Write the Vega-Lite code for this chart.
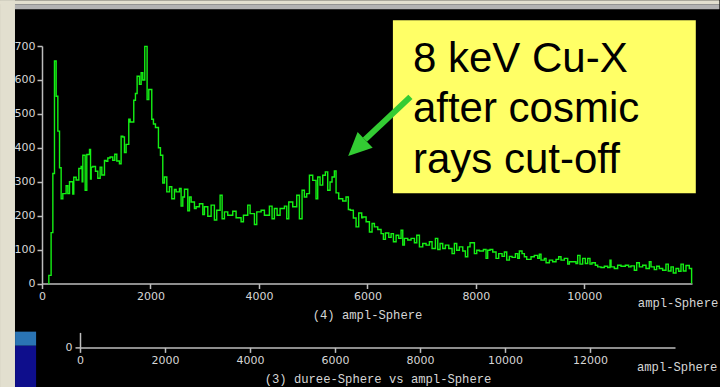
{
  "$schema": "https://vega.github.io/schema/vega-lite/v6.json",
  "background": "#000000",
  "padding": 0,
  "spacing": 48.4,
  "bounds": "flush",
  "config": {
    "view": {"stroke": null},
    "axis": {
      "domainColor": "#bdbdbd", "tickColor": "#bdbdbd", "labelColor": "#d6d6d6",
      "labelFont": "DejaVu Sans", "labelFontSize": 11, "tickSize": 5, "labelPadding": 2,
      "grid": false, "titleColor": "#d6d6d6", "titleFont": "Liberation Mono",
      "titleFontSize": 12.2, "titleFontWeight": "normal", "domainWidth": 1.5, "tickWidth": 1.5,
      "labelFlush": false, "labelOverlap": false, "zindex": 1, "format": "d"
    }
  },
  "vconcat": [
    {
      "width": 650,
      "height": 237.5,
      "encoding": {
        "x": {"field": "x", "type": "quantitative", "scale": {"domain": [0, 11985], "nice": false, "zero": false},
          "axis": {"values": [0, 2000, 4000, 6000, 8000, 10000], "title": "(4) ampl-Sphere", "titleX": 325, "titleY": 30.5, "titleAlign": "center", "titleBaseline": "middle"}},
        "y": {"field": "y", "type": "quantitative", "scale": {"domain": [0, 700], "nice": false, "zero": false},
          "axis": {"values": [0, 100, 200, 300, 400, 500, 600, 700], "title": null}}
      },
      "layer": [
        {
          "data": {"values": [
            {"x": -774, "x2": -498, "y": 835, "y2": -305},
            {"x": -774, "x2": 12490, "y": 835, "y2": 823}
          ]},
          "mark": {"type": "rect", "color": "#e2dfcf"},
          "encoding": {"x2": {"field": "x2"}, "y2": {"field": "y2"}}
        },
        {
          "data": {"values": [{"x": -498, "x2": 12490, "y": 823, "y2": 808.5}]},
          "mark": {"type": "rect", "color": "#b2b2b2"},
          "encoding": {"x2": {"field": "x2"}, "y2": {"field": "y2"}}
        },
        {
          "data": {"values": [{"x": 6470, "x2": 12055, "y": 776, "y2": 266}]},
          "mark": {"type": "rect", "color": "#ffff66"},
          "encoding": {"x2": {"field": "x2"}, "y2": {"field": "y2"}}
        },
        {
          "data": {"values": [
            {"x": 6839, "y": 623, "t": "8 keV Cu-X"},
            {"x": 6839, "y": 476, "t": "after cosmic"},
            {"x": 6839, "y": 325, "t": "rays cut-off"}
          ]},
          "mark": {"type": "text", "font": "Liberation Sans", "fontSize": 42, "align": "left", "baseline": "alphabetic", "color": "#000000"},
          "encoding": {"text": {"field": "t"}}
        },
        {
          "data": {"values": [{"x": 10986, "y": -58, "t": "ampl-Sphere"}]},
          "mark": {"type": "text", "font": "Liberation Mono", "fontSize": 12.2, "align": "left", "baseline": "middle", "color": "#d6d6d6"},
          "encoding": {"text": {"field": "t"}}
        },
        {
          "data": {"values": [
            {"x":120,"y":0},{"x":126,"y":24},{"x":168,"y":150},{"x":200,"y":324},{"x":230,"y":656},{"x":261,"y":552},{"x":292,"y":449},{"x":323,"y":341},{"x":353,"y":250},{"x":384,"y":265},{"x":445,"y":288},{"x":476,"y":265},{"x":507,"y":300},{"x":568,"y":264},{"x":586,"y":313},{"x":630,"y":305},{"x":679,"y":339},{"x":722,"y":345},{"x":740,"y":300},{"x":753,"y":378},{"x":796,"y":275},{"x":826,"y":380},{"x":876,"y":395},{"x":895,"y":308},{"x":907,"y":343},{"x":937,"y":345},{"x":986,"y":331},{"x":1029,"y":310},{"x":1072,"y":343},{"x":1103,"y":320},{"x":1152,"y":363},{"x":1183,"y":360},{"x":1213,"y":370},{"x":1256,"y":373},{"x":1305,"y":363},{"x":1342,"y":381},{"x":1379,"y":361},{"x":1428,"y":353},{"x":1459,"y":434},{"x":1490,"y":432},{"x":1520,"y":386},{"x":1551,"y":410},{"x":1600,"y":484},{"x":1625,"y":476},{"x":1692,"y":540},{"x":1723,"y":560},{"x":1754,"y":611},{"x":1797,"y":587},{"x":1828,"y":621},{"x":1858,"y":600},{"x":1895,"y":699},{"x":1938,"y":542},{"x":1969,"y":572},{"x":2024,"y":484},{"x":2055,"y":470},{"x":2092,"y":460},{"x":2147,"y":400},{"x":2184,"y":378},{"x":2227,"y":296},{"x":2258,"y":314},{"x":2301,"y":270},{"x":2350,"y":285},{"x":2393,"y":250},{"x":2442,"y":277},{"x":2473,"y":270},{"x":2535,"y":280},{"x":2565,"y":228},{"x":2596,"y":255},{"x":2627,"y":278},{"x":2688,"y":214},{"x":2719,"y":255},{"x":2750,"y":240},{"x":2811,"y":221},{"x":2842,"y":226},{"x":2903,"y":235},{"x":2965,"y":203},{"x":2995,"y":226},{"x":3057,"y":198},
            {"x":3118,"y":231},{"x":3179,"y":187},{"x":3222,"y":216},{"x":3284,"y":260},{"x":3321,"y":191},{"x":3364,"y":211},{"x":3425,"y":201},{"x":3517,"y":213},{"x":3579,"y":194},{"x":3671,"y":182},{"x":3714,"y":201},{"x":3794,"y":231},{"x":3837,"y":206},{"x":3917,"y":174},{"x":3960,"y":211},{"x":4040,"y":216},{"x":4101,"y":201},{"x":4193,"y":228},{"x":4242,"y":191},{"x":4285,"y":221},{"x":4335,"y":201},{"x":4390,"y":221},{"x":4470,"y":228},{"x":4513,"y":191},{"x":4550,"y":240},{"x":4623,"y":226},{"x":4697,"y":260},{"x":4746,"y":191},{"x":4795,"y":275},{"x":4838,"y":255},{"x":4881,"y":265},{"x":4931,"y":319},{"x":4992,"y":304},{"x":5053,"y":250},{"x":5084,"y":314},{"x":5127,"y":290},{"x":5176,"y":319},{"x":5225,"y":329},{"x":5268,"y":275},{"x":5311,"y":299},{"x":5348,"y":314},{"x":5391,"y":332},{"x":5422,"y":267},{"x":5471,"y":250},{"x":5545,"y":243},{"x":5606,"y":255},{"x":5649,"y":218},{"x":5686,"y":216},{"x":5741,"y":193},{"x":5791,"y":167},{"x":5840,"y":208},{"x":5895,"y":194},
            {"x":5914,"y":196},{"x":5976,"y":182},{"x":6037,"y":152},{"x":6086,"y":177},{"x":6129,"y":167},{"x":6191,"y":159},{"x":6252,"y":147},{"x":6295,"y":130},{"x":6332,"y":149},{"x":6394,"y":136},{"x":6437,"y":147},{"x":6480,"y":123},{"x":6529,"y":142},{"x":6578,"y":133},{"x":6621,"y":157},{"x":6652,"y":113},{"x":6682,"y":133},{"x":6744,"y":128},{"x":6805,"y":133},{"x":6867,"y":120},{"x":6910,"y":142},{"x":6959,"y":108},{"x":7020,"y":118},{"x":7082,"y":113},{"x":7143,"y":123},{"x":7192,"y":103},{"x":7254,"y":133},{"x":7297,"y":100},{"x":7340,"y":118},{"x":7389,"y":103},{"x":7438,"y":113},{"x":7500,"y":103},{"x":7561,"y":88},{"x":7604,"y":118},{"x":7647,"y":98},{"x":7696,"y":108},{"x":7758,"y":96},{"x":7807,"y":79},{"x":7850,"y":108},{"x":7893,"y":120},{"x":7973,"y":88},{"x":8016,"y":98},{"x":8065,"y":96},{"x":8139,"y":100},{"x":8188,"y":74},{"x":8218,"y":98},{"x":8261,"y":100},{"x":8311,"y":93},{"x":8372,"y":74},{"x":8421,"y":88},{"x":8483,"y":80},{"x":8526,"y":93},{"x":8569,"y":69},{"x":8618,"y":80},{"x":8667,"y":77},{"x":8729,"y":88},{"x":8772,"y":74},
            {"x":8802,"y":96},{"x":8851,"y":88},{"x":8894,"y":79},{"x":8937,"y":71},{"x":9017,"y":79},{"x":9078,"y":83},{"x":9140,"y":74},{"x":9171,"y":86},{"x":9201,"y":69},{"x":9263,"y":74},{"x":9294,"y":61},{"x":9355,"y":69},{"x":9416,"y":64},{"x":9478,"y":71},{"x":9527,"y":79},{"x":9570,"y":69},{"x":9631,"y":74},{"x":9693,"y":57},{"x":9724,"y":64},{"x":9846,"y":59},{"x":9877,"y":83},{"x":9920,"y":57},{"x":9969,"y":74},{"x":10018,"y":59},{"x":10062,"y":74},{"x":10104,"y":57},{"x":10141,"y":61},{"x":10203,"y":54},{"x":10246,"y":49},{"x":10307,"y":47},{"x":10369,"y":51},{"x":10430,"y":47},{"x":10473,"y":69},{"x":10492,"y":49},{"x":10553,"y":44},{"x":10614,"y":54},{"x":10676,"y":51},{"x":10756,"y":54},{"x":10817,"y":49},{"x":10860,"y":52},{"x":10922,"y":39},{"x":10965,"y":61},{"x":11014,"y":49},{"x":11075,"y":54},{"x":11137,"y":44},{"x":11198,"y":64},{"x":11229,"y":49},{"x":11290,"y":41},{"x":11333,"y":51},{"x":11383,"y":44},{"x":11444,"y":39},{"x":11505,"y":57},{"x":11548,"y":37},{"x":11598,"y":49},{"x":11640,"y":31},{"x":11690,"y":44},{"x":11739,"y":36},{"x":11782,"y":57},{"x":11825,"y":37},{"x":11874,"y":53},{"x":11935,"y":44},{"x":11978,"y":0}
          ]},
          "mark": {"type": "line", "interpolate": "step-after", "color": "#14f014", "strokeWidth": 1.4}
        },
        {
          "data": {"values": [{"x": 6793, "y": 550, "x2": 5954, "y2": 424}]},
          "mark": {"type": "rule", "color": "#33cc33", "strokeWidth": 6, "strokeCap": "butt"},
          "encoding": {"x2": {"field": "x2"}, "y2": {"field": "y2"}}
        },
        {
          "data": {"values": [{"x": 5646, "y": 376}]},
          "mark": {"type": "point", "shape": "M0,0L0.7,1.5L-0.7,1.5Z", "angle": 226.4, "size": 973, "filled": true, "color": "#33cc33", "opacity": 1, "strokeWidth": 0}
        }
      ]
    },
    {
      "width": 633,
      "height": 15,
      "encoding": {
        "x": {"field": "x", "type": "quantitative", "scale": {"domain": [0, 14000], "range": [38, 633], "nice": false, "zero": false},
          "axis": {"values": [0, 2000, 4000, 6000, 8000, 10000, 12000], "title": "(3) duree-Sphere vs ampl-Sphere", "titleX": 335.5, "titleY": 31, "titleAlign": "center", "titleBaseline": "middle"}},
        "y": {"field": "y", "type": "quantitative", "scale": {"domain": [0, 1], "nice": false, "zero": false},
          "axis": {"values": [0], "title": null, "offset": -38, "labelPadding": 3}}
      },
      "layer": [
        {
          "data": {"values": [{"x": -1527, "x2": -1033, "y": 1.05, "y2": 0.11}]},
          "mark": {"type": "rect", "color": "#2a74b4"},
          "encoding": {"x2": {"field": "x2"}, "y2": {"field": "y2"}}
        },
        {
          "data": {"values": [{"x": -1527, "x2": -1033, "y": 0.11, "y2": -2.68}]},
          "mark": {"type": "rect", "color": "#0e0e8c"},
          "encoding": {"x2": {"field": "x2"}, "y2": {"field": "y2"}}
        },
        {
          "data": {"values": [{"x": 13105, "y": -1.29, "t": "ampl-Sphere"}]},
          "mark": {"type": "text", "font": "Liberation Mono", "fontSize": 12.2, "align": "left", "baseline": "middle", "color": "#d6d6d6"},
          "encoding": {"text": {"field": "t"}}
        }
      ]
    }
  ]
}
